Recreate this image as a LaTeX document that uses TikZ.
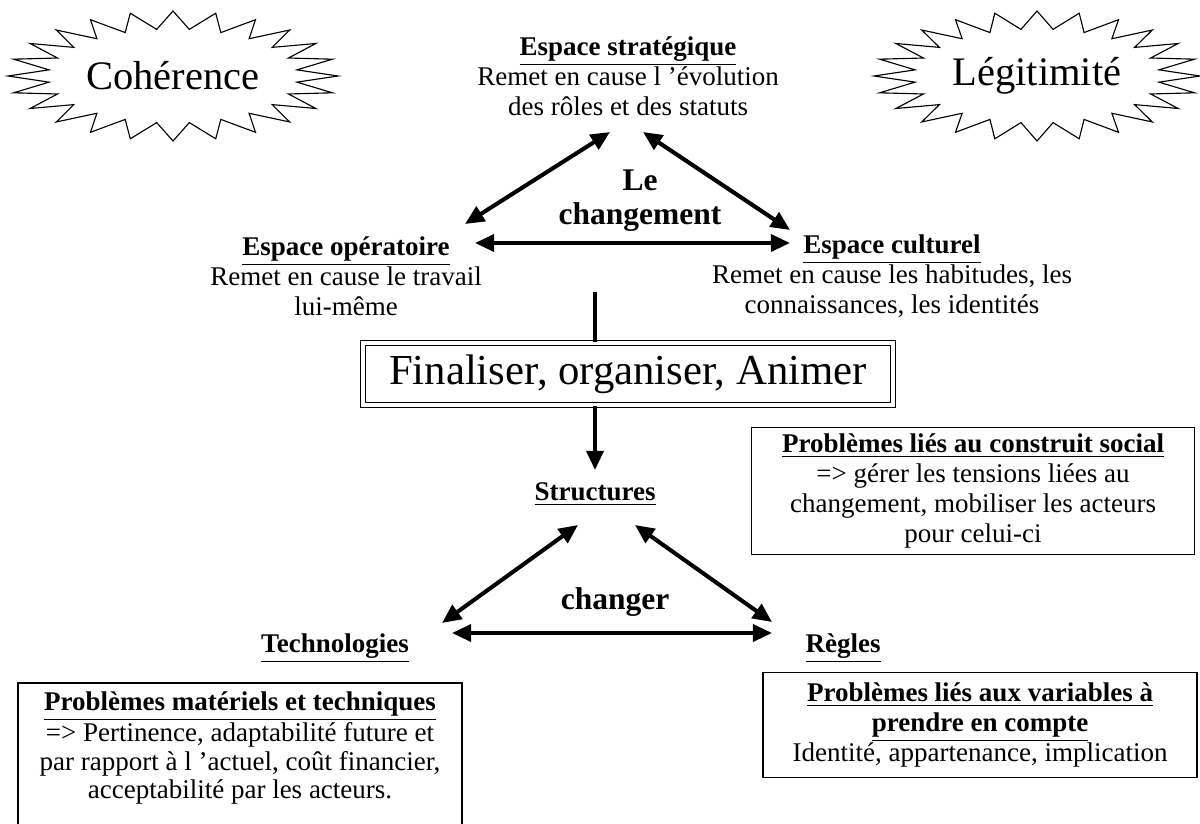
\documentclass[tikz,border=0pt]{standalone}
\usepackage{fontspec}
\setmainfont{Liberation Serif}
\usetikzlibrary{arrows.meta,calc}

\begin{document}
\begin{tikzpicture}[x=0.4444pt,y=-0.4444pt,
  txt/.style={align=center,font=\fontsize{12}{13.3}\selectfont,inner sep=0pt},
  bigword/.style={font=\fontsize{18}{20}\selectfont,inner sep=0pt},
  keyword/.style={align=center,font=\fontsize{14}{15}\selectfont\bfseries,inner sep=0pt},
  burst/.style={draw,line width=0.5pt,line join=miter},
  link/.style={line width=1.8pt,{Triangle[length=8.5pt,width=7.5pt]}-{Triangle[length=8.5pt,width=7.5pt]}},
  probbox/.style={txt,draw,line width=0.6pt}]
  \useasboundingbox (0,0) rectangle (1200,823);

  % the two bursts
  \node[bigword] (coh) at (173,76) {Cohérence};
  \draw[burst] ($(coh)+(165,0)$) \foreach \a in {15,30,...,360} {
    -- ($(coh)+({125*cos(\a-7.5)},{47*sin(\a-7.5)})$) -- ($(coh)+({165*cos(\a)},{65*sin(\a)})$) } -- cycle;
  \node[bigword] (leg) at (1037,76) {Légitimité};
  \draw[burst] ($(leg)+(163,0)$) \foreach \a in {15,30,...,360} {
    -- ($(leg)+({123*cos(\a-7.5)},{47*sin(\a-7.5)})$) -- ($(leg)+({163*cos(\a)},{65*sin(\a)})$) } -- cycle;

  % the three spaces
  \node[txt] (strat) at (628,76) {\textbf{\underline{Espace stratégique}}\\Remet en cause l ’évolution\\des rôles et des statuts};
  \node[keyword] (chg) at (640,201) {Le\\changement};
  \node[txt] (oper) at (346,276) {\textbf{\underline{Espace opératoire}}\\Remet en cause le travail\\lui-même};
  \node[txt] (cult) at (892,276) {\textbf{\underline{Espace culturel}}\\Remet en cause les habitudes, les\\connaissances, les identités};
  \coordinate (s1) at (610,132);
  \coordinate (s2) at (643,132);
  \coordinate (o1) at (465,224);
  \coordinate (o2) at (475,243);
  \coordinate (c1) at (790,230);
  \coordinate (c2) at (790,243);
  \draw[link] (o1) -- (s1);
  \draw[link] (s2) -- (c1);
  \draw[link] (o2) -- (c2);

  % middle box
  \node[txt,draw,double,double distance=1.4pt,line width=0.5pt,minimum width=235.5pt,minimum height=27.5pt,
    font=\fontsize{19}{21}\selectfont] (fin) at (628,374) {Finaliser, organiser, Animer};
  \coordinate (v1) at (595,292);
  \coordinate (v2) at (595,470);
  \draw[line width=2.2pt] (v1) -- (v1 |- fin.north);
  \draw[line width=1.8pt,-{Triangle[length=8.5pt,width=7.5pt]}] (v1 |- fin.south) -- (v2);

  % what changes
  \node[txt] (struct) at (595,494) {\textbf{\underline{Structures}}};
  \node[keyword] (chgr) at (615,602) {changer};
  \node[txt] (techno) at (335,648) {\textbf{\underline{Technologies}}};
  \node[txt] (regles) at (843,648) {\textbf{\underline{Règles}}};
  \coordinate (t1) at (578,525);
  \coordinate (t2) at (635,525);
  \coordinate (l1) at (442,623);
  \coordinate (l2) at (452,633);
  \coordinate (r1) at (772,622);
  \coordinate (r2) at (772,633);
  \draw[link] (l1) -- (t1);
  \draw[link] (t2) -- (r1);
  \draw[link] (l2) -- (r2);

  % problem boxes
  \node[probbox,minimum width=197pt,minimum height=56.4pt] (social) at (973,491)
    {\textbf{\underline{Problèmes liés au construit social}}\\=> gérer les tensions liées au\\changement, mobiliser les acteurs\\pour celui-ci};
  \node[probbox,minimum width=193pt,minimum height=46.7pt] (variab) at (980,725)
    {\textbf{\underline{Problèmes liés aux variables à}}\\\textbf{\underline{prendre en compte}}\\Identité, appartenance, implication};
  \node[txt,font=\fontsize{12}{12.6}\selectfont] (mater) at (240,748)
    {\textbf{\underline{Problèmes matériels et techniques}}\\=> Pertinence, adaptabilité future et\\par rapport à l ’actuel, coût financier,\\acceptabilité par les acteurs.};
  \draw[line width=0.6pt] (18,683) rectangle (462,840);
\end{tikzpicture}
\end{document}
